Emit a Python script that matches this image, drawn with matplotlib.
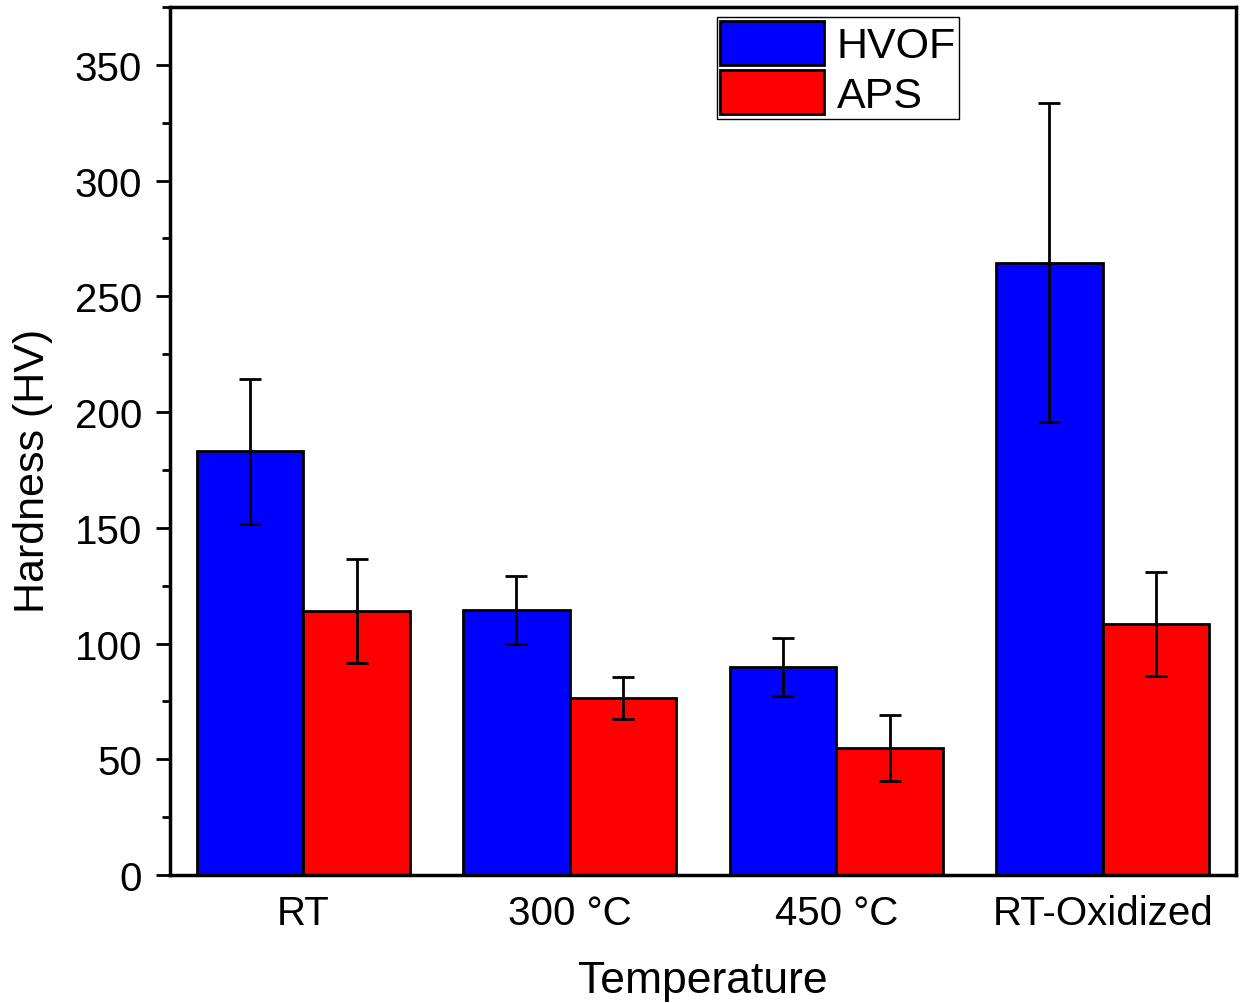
import numpy as np
import matplotlib
matplotlib.use("Agg")
import matplotlib.pyplot as plt
from matplotlib.ticker import MultipleLocator

plt.rcParams['font.family'] = ['Liberation Sans', 'DejaVu Sans']

categories = ["RT", "300 °C", "450 °C", "RT-Oxidized"]
hvof = [183, 114.5, 90, 264.5]
hvof_err = [31.5, 14.7, 12.5, 69]
aps = [114, 76.5, 55, 108.5]
aps_err = [22.5, 9, 14.3, 22.5]

fig = plt.figure(figsize=(12.41, 10.04), dpi=100)
ax = fig.add_axes([0.137, 0.1275, 0.859, 0.8645])

x = np.arange(len(categories))
w = 0.4
ekw = dict(ecolor="black", elinewidth=2, capsize=8, capthick=2)
ax.bar(x - w/2, hvof, w, yerr=hvof_err, color="#0000ff", edgecolor="black",
       linewidth=2, error_kw=ekw, label="HVOF")
ax.bar(x + w/2, aps, w, yerr=aps_err, color="#ff0000", edgecolor="black",
       linewidth=2, error_kw=ekw, label="APS")

ax.set_xlim(-0.5, 3.5)
ax.set_ylim(0, 375)
ax.set_xticks(x)
ax.set_xticklabels(categories)
ax.tick_params(axis="x", length=0, pad=14, labelsize=29)
ax.yaxis.set_major_locator(MultipleLocator(50))
ax.yaxis.set_minor_locator(MultipleLocator(25))
ax.tick_params(axis="y", which="major", length=10, width=2, labelsize=29, pad=10)
ax.tick_params(axis="y", which="minor", length=6, width=2)
for s in ax.spines.values():
    s.set_linewidth(2.5)

ax.set_xlabel("Temperature", fontsize=32, labelpad=20)
ax.set_ylabel("Hardness (HV)", fontsize=31)
ax.yaxis.set_label_coords(-0.110, 0.467)

leg = ax.legend(loc="upper left", bbox_to_anchor=(0.513, 0.988), fontsize=31,
                handlelength=2.4, handleheight=1.2, labelspacing=0.08,
                handletextpad=0.3, borderpad=0.08, borderaxespad=0,
                fancybox=False, framealpha=1, edgecolor="black")
leg.get_frame().set_linewidth(1)

fig.savefig("out.png", dpi=100)
